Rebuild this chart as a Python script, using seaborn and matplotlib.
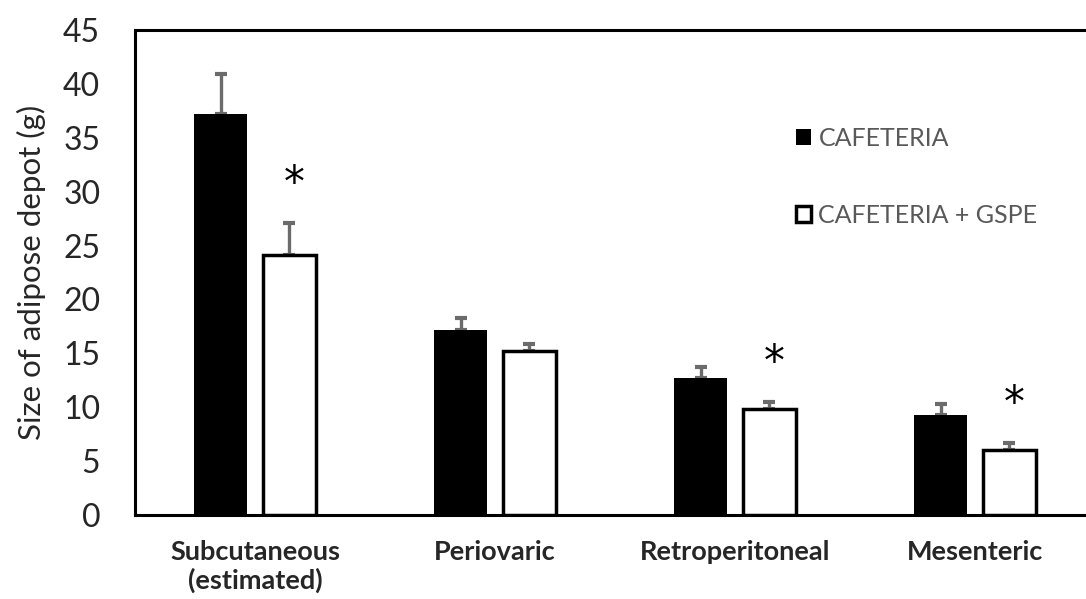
import matplotlib
matplotlib.use('Agg')
import matplotlib.pyplot as plt
import seaborn as sns
import numpy as np
import pandas as pd

# values (g)
categories = ['Subcutaneous\n(estimated)', 'Periovaric', 'Retroperitoneal', 'Mesenteric']
groups = ['CAFETERIA', 'CAFETERIA + GSPE']
caf_mean = [37.2, 17.2, 12.7, 9.3]
caf_err = [3.7, 1.1, 1.0, 1.0]
gspe_mean = [24.1, 15.2, 9.8, 6.0]
gspe_err = [3.0, 0.7, 0.7, 0.7]
significant = [True, False, True, True]

df = pd.DataFrame({
    'depot': categories * 2,
    'group': [groups[0]] * 4 + [groups[1]] * 4,
    'size': caf_mean + gspe_mean,
    'err': caf_err + gspe_err,
})

sns.set_style('white')
plt.rcParams['font.family'] = ['Lato', 'DejaVu Sans']

fig = plt.figure(figsize=(10.86, 5.99), dpi=100)
ax = fig.add_axes([135 / 1086, 1 - 515 / 599, 1 - 135 / 1086, (515 - 30) / 599])

palette = {groups[0]: 'black', groups[1]: 'white'}
sns.barplot(data=df, x='depot', y='size', hue='group', palette=palette,
            width=0.572, gap=0.224, edgecolor='black', linewidth=2.5,
            errorbar=None, ax=ax, zorder=3)

# bars: black ones without edge, find centers for the error bars
bars = [p for p in ax.patches if p.get_height() > 0]
centers = {}
for p in bars:
    fc = p.get_facecolor()
    if fc[0] < 0.5:
        p.set_linewidth(0)
    centers[(round(p.get_height(), 2), fc[0] < 0.5)] = p.get_x() + p.get_width() / 2

for _, row in df.iterrows():
    is_black = row['group'] == groups[0]
    xc = centers[(round(row['size'], 2), is_black)]
    ax.errorbar(xc, row['size'], yerr=[[0], [row['err']]], fmt='none',
                ecolor='#6b6b6b', elinewidth=2.4, capsize=4.5, capthick=3, zorder=2)

# significance stars above the GSPE bars
for i, sig in enumerate(significant):
    if sig:
        xc = centers[(round(gspe_mean[i], 2), False)]
        ax.text(xc + 0.02, gspe_mean[i] + gspe_err[i] + 3.6, '*', ha='center', va='center',
                fontsize=30, color='black', family='DejaVu Sans')

ax.set_ylim(0, 45)
ax.set_xlim(-0.5, (1086 - 135) / 240 - 0.5)
ax.set_yticks(np.arange(0, 46, 5))
ax.tick_params(axis='y', direction='in', length=8, width=2, labelsize=23, pad=25)
ax.tick_params(axis='x', length=0, labelsize=19.5, pad=18)
for lbl in ax.get_xticklabels():
    lbl.set_fontweight('bold')
    lbl.set_linespacing(1.17)
ax.set_xlabel('')
ax.set_ylabel('Size of adipose depot (g)', fontsize=22.5, labelpad=12)

for side in ['left', 'bottom', 'top']:
    ax.spines[side].set_visible(True)
    ax.spines[side].set_color('black')
    ax.spines[side].set_linewidth(2.2)
ax.spines['right'].set_visible(False)

handles, labels = ax.get_legend_handles_labels()
for h in handles:
    if h.get_facecolor()[0] < 0.5:
        h.set_linewidth(0)
leg = ax.legend(handles, labels, loc='upper left', frameon=False,
                bbox_to_anchor=(796 / 1086, 1 - 127 / 599), bbox_transform=fig.transFigure,
                fontsize=18, handlelength=0.6, handleheight=0.6, handletextpad=0.3,
                labelspacing=2.15, borderpad=0, borderaxespad=0)
for t in leg.get_texts():
    t.set_color('#595959')

fig.savefig('out.png', dpi=100)
